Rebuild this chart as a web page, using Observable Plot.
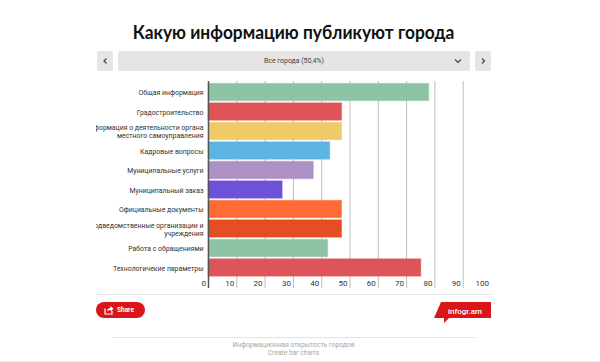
<!DOCTYPE html>
<html><head><meta charset="utf-8">
<script src="https://cdn.jsdelivr.net/npm/d3@7"></script>
<script src="https://cdn.jsdelivr.net/npm/@observablehq/plot@0.6"></script>
<style>
html,body{margin:0;padding:0;background:#fff;width:600px;height:362px;overflow:hidden;font-family:Roboto,sans-serif}
.a{position:absolute}
#title{left:0;width:587px;top:20px;text-align:center;font:700 19.5px/24px Lato,sans-serif;color:#111;transform:scaleX(.89);transform-origin:293.5px 0}
.btn{background:#e5e5e5;border-radius:2px;top:51px;height:20px}
#city{font-size:6.9px;line-height:20px;color:#444;text-align:center}
.btn svg{position:absolute;top:0;left:0}
#chart{left:96px;top:78px;width:395px}
#chart svg{display:block}
#foot{top:341px;left:0;width:587px;text-align:center;font-size:6.7px;line-height:8px;color:#a8a8a8}
</style></head><body>
<div class="a" id="title">Какую информацию публикуют города</div>
<div class="a btn" style="left:97px;width:16px"><svg width="16" height="20"><path d="M9.5 7.5L7 10l2.5 2.5" fill="none" stroke="#444" stroke-width="1.2"/></svg></div>
<div class="a btn" id="city" style="left:118px;width:352px"><span>Все города (50,4%)</span><svg width="352" height="20"><path d="M337 8.5l3 3 3-3" fill="none" stroke="#444" stroke-width="1.2"/></svg></div>
<div class="a btn" style="left:475px;width:16px"><svg width="16" height="20"><path d="M7 7.5L9.5 10 7 12.5" fill="none" stroke="#444" stroke-width="1.2"/></svg></div>
<div class="a" id="chart"></div>
<div class="a" style="left:96px;top:294px;width:395px;height:1px;background:#e2e2e2"></div>
<div class="a" style="left:96px;top:302px;width:49px;height:16px;border-radius:8px;background:#d9161a;color:#fff;font-size:6.5px;font-weight:700;line-height:16px"><svg width="10" height="10" style="position:absolute;left:8px;top:3px"><path d="M1 3.5V9H8V6" fill="none" stroke="#fff" stroke-width="1.2"/><path d="M3 6.5C3 4 5 3 6.5 3V1L9.5 3.8 6.5 6.5V5C5 5 4 5.5 3 6.5z" fill="#fff"/></svg><span style="position:absolute;left:21px">Share</span></div>
<svg class="a" style="left:434px;top:302px" width="57" height="21"><path d="M7 0H57V16H15L10 21V16H0z" fill="#d9161a"/><text x="31" y="11.5" fill="#fff" text-anchor="middle" font-family="Roboto" font-weight="500" font-size="8">infogr.am</text></svg>
<div class="a" style="left:112px;top:337px;width:363px;height:1px;background:#e2e2e2"></div>
<div class="a" id="foot">Информационная открытость городов<br>Create bar charts</div>
<div class="a" style="left:0;top:361px;width:600px;height:1px;background:#f0f0f0"></div>
<script>
const categories = ["Общая информация","Градостроительство","Информация о деятельности органа\nместного самоуправления","Кадровые вопросы","Муниципальные услуги","Муниципальный заказ","Официальные документы","Подведомственные организации и\nучреждения","Работа с обращениями","Технологичекие параметры"];
const values = [78,47.2,47.2,43,37.2,26.2,47.2,47.2,42.3,75.2];
const colors = ["#8fc3a6","#e05357","#f0ca69","#5cb4e5","#ac90c6","#6d52d9","#ff6b35","#e54e22","#8fc3a6","#de5559"];
const gridTicks = [10,20,30,40,50,60,70,80,90];
const axisTicks = [0,10,20,30,40,50,60,70,80,90,100];
const rows = categories.map((c,i)=>({c,v:values[i],col:colors[i]}));
const plot = Plot.plot({
  width:395,height:214,marginLeft:112,marginRight:0,marginTop:3,marginBottom:4,
  style:{fontFamily:"Roboto",background:"#fff"},
  x:{domain:[0,100]},
  y:{domain:categories,range:[3.2,200.3],padding:0.11,align:0.5,round:false},
  marks:[
    Plot.ruleX(gridTicks,{x:d=>d,stroke:"#bdbdbd",strokeWidth:1}),
    Plot.barX(rows,{x:"v",y:"c",fill:"col",stroke:"col",strokeOpacity:0.45,strokeWidth:1}),
    Plot.ruleX([0],{stroke:"#555",strokeWidth:1.5}),
    Plot.axisY({tickSize:0,tickPadding:5,fontSize:6.9,lineHeight:1.16,color:"#333",label:null}),
    Plot.axisX({ticks:axisTicks,tickFormat:d=>d,tickSize:0,tickPadding:0,dy:-8,dx:-2.5,textAnchor:"end",fontSize:8,color:"#333",label:null})
  ]
});
document.getElementById("chart").appendChild(plot);
</script>
</body></html>
